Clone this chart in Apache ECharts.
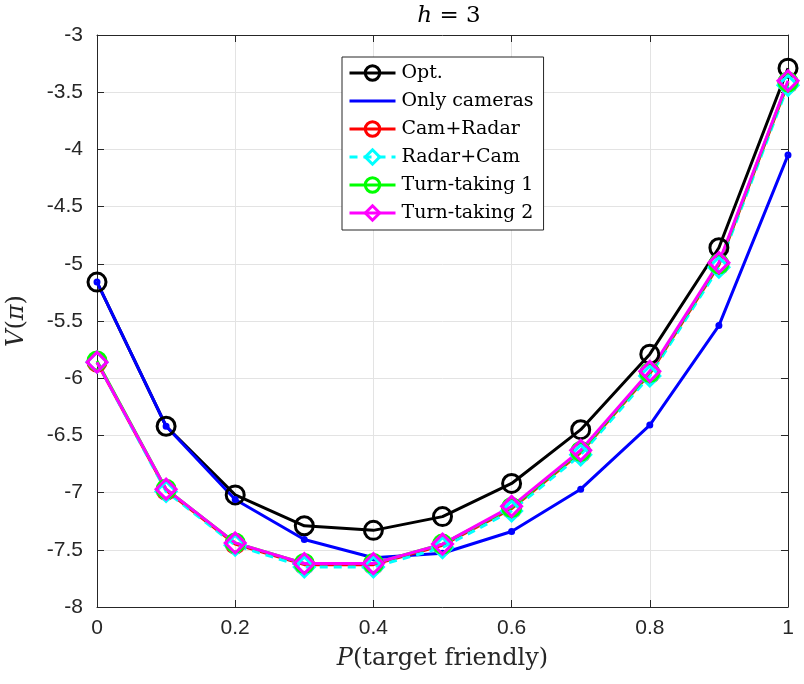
<!DOCTYPE html>
<html>
<head>
<meta charset="utf-8">
<script src="https://cdn.jsdelivr.net/npm/echarts@6/dist/echarts.min.js"></script>
<style>
  html, body { margin: 0; padding: 0; background: #fff; }
  #chart { width: 804px; height: 684px; }
</style>
</head>
<body>
<div id="chart"></div>
<script>
// P(target friendly)
var xVals = [0, 0.1, 0.2, 0.3, 0.4, 0.5, 0.6, 0.7, 0.8, 0.9, 1];

// V(pi) per policy
var optVals      = [-5.16, -6.42, -7.02, -7.29, -7.33, -7.21, -6.92, -6.45, -5.79, -4.86, -3.29];
var camOnlyVals  = [-5.16, -6.42, -7.06, -7.41, -7.57, -7.53, -7.34, -6.97, -6.41, -5.54, -4.05];
var camRadarVals = [-5.86, -6.98, -7.45, -7.63, -7.63, -7.46, -7.14, -6.65, -5.96, -5.01, -3.42];
var radarCamVals = [-5.86, -6.99, -7.46, -7.65, -7.65, -7.48, -7.16, -6.67, -5.98, -5.03, -3.44];
var turn1Vals    = [-5.85, -6.97, -7.44, -7.62, -7.62, -7.45, -7.13, -6.64, -5.95, -5.00, -3.41];
var turn2Vals    = [-5.86, -6.97, -7.44, -7.62, -7.62, -7.45, -7.12, -6.63, -5.94, -4.99, -3.40];

var xTicks = [0, 0.2, 0.4, 0.6, 0.8, 1];

function pairs(ys) {
    var res = [];
    for (var i = 0; i < xVals.length; i++) {
        res.push([xVals[i], ys[i]]);
    }
    return res;
}

var myChart = echarts.init(document.getElementById('chart'));

var axisCol = '#262626';
var serif = 'DejaVu Serif';
var sans = 'Liberation Sans';

function mk(name, ys, color, symbol, size, dashed) {
    return {
        name: name,
        type: 'line',
        data: pairs(ys),
        symbol: symbol,
        symbolSize: size,
        lineStyle: { color: color, width: 3, type: dashed ? [8, 6] : 'solid' },
        itemStyle: { color: 'rgba(0,0,0,0)', borderColor: color, borderWidth: 3 },
        emphasis: { disabled: true },
        animation: false
    };
}

var option = {
    backgroundColor: '#fff',
    title: {
        text: '{i|h} = 3',
        left: 444,
        top: 0,
        textAlign: 'center',
        textStyle: {
            fontFamily: serif, fontSize: 23, fontWeight: 'normal', color: '#000',
            rich: { i: { fontFamily: serif, fontSize: 23, fontStyle: 'italic', color: '#000' } }
        }
    },
    grid: { left: 97, right: 16, top: 35, bottom: 77, outerBoundsMode: 'none', containLabel: false },
    legend: {
        orient: 'vertical',
        left: 342,
        top: 57,
        padding: [5, 10, 6, 6],
        itemWidth: 46,
        itemHeight: 18,
        itemGap: 6,
        borderColor: axisCol,
        borderWidth: 1,
        backgroundColor: '#fff',
        lineStyle: { width: 3 },
        itemStyle: { borderWidth: 3 },
        textStyle: { fontFamily: serif, fontSize: 19, lineHeight: 22, color: '#000', padding: [0, 0, 0, 1] },
        data: [
            'Opt.',
            { name: 'Only cameras', icon: 'path://M0,0 H46 V3 H0 Z', itemStyle: { color: '#0000ff', borderWidth: 0 } },
            'Cam+Radar', 'Radar+Cam', 'Turn-taking 1', 'Turn-taking 2'
        ]
    },
    xAxis: [{
        type: 'value', min: 0, max: 1, interval: 0.2,
        name: '{i|P}(target friendly)',
        nameLocation: 'middle',
        nameGap: 40,
        nameTextStyle: {
            fontFamily: serif, fontSize: 24, color: '#262626',
            rich: { i: { fontFamily: serif, fontSize: 24, fontStyle: 'italic', color: '#262626' } }
        },
        axisLine: { show: true, onZero: false, lineStyle: { color: axisCol, width: 1 } },
        axisTick: { show: true, inside: true, length: 7, lineStyle: { color: axisCol } },
        axisLabel: {
            margin: 11, fontFamily: sans, fontSize: 21, color: '#262626',
            formatter: function (v) {
                var r = Math.round(v * 10) / 10;
                return xTicks.indexOf(r) >= 0 ? String(r) : '';
            }
        },
        splitLine: { show: true, lineStyle: { color: '#e3e3e3', width: 1 } }
    }, {
        type: 'value', min: 0, max: 1, interval: 0.2, position: 'top',
        axisLine: { show: true, onZero: false, lineStyle: { color: axisCol, width: 1 } },
        axisTick: { show: true, inside: true, length: 7, lineStyle: { color: axisCol } },
        axisLabel: { show: false },
        splitLine: { show: false }
    }],
    yAxis: [{
        type: 'value', min: -8, max: -3, interval: 0.5,
        name: '{i|V}({i|π})',
        nameLocation: 'middle',
        nameGap: 68,
        nameRotate: 90,
        nameTextStyle: {
            fontFamily: serif, fontSize: 24, color: '#262626',
            rich: { i: { fontFamily: serif, fontSize: 24, fontStyle: 'italic', color: '#262626' } }
        },
        axisLine: { show: true, onZero: false, lineStyle: { color: axisCol, width: 1 } },
        axisTick: { show: true, inside: true, length: 7, lineStyle: { color: axisCol } },
        axisLabel: { margin: 14, fontFamily: sans, fontSize: 21, color: '#262626' },
        splitLine: { show: true, lineStyle: { color: '#e3e3e3', width: 1 } }
    }, {
        type: 'value', min: -8, max: -3, interval: 0.5, position: 'right',
        axisLine: { show: true, onZero: false, lineStyle: { color: axisCol, width: 1 } },
        axisTick: { show: true, inside: true, length: 7, lineStyle: { color: axisCol } },
        axisLabel: { show: false },
        splitLine: { show: false }
    }],
    series: [
        mk('Opt.', optVals, '#000000', 'circle', 18, false),
        mk('Only cameras', camOnlyVals, '#0000ff', 'circle', 4, false),
        mk('Cam+Radar', camRadarVals, '#ff0000', 'circle', 18, false),
        mk('Radar+Cam', radarCamVals, '#00ffff', 'diamond', 20, true),
        mk('Turn-taking 1', turn1Vals, '#00ff00', 'circle', 18, false),
        mk('Turn-taking 2', turn2Vals, '#ff00ff', 'diamond', 20, false)
    ]
};

myChart.setOption(option);
</script>
</body>
</html>
